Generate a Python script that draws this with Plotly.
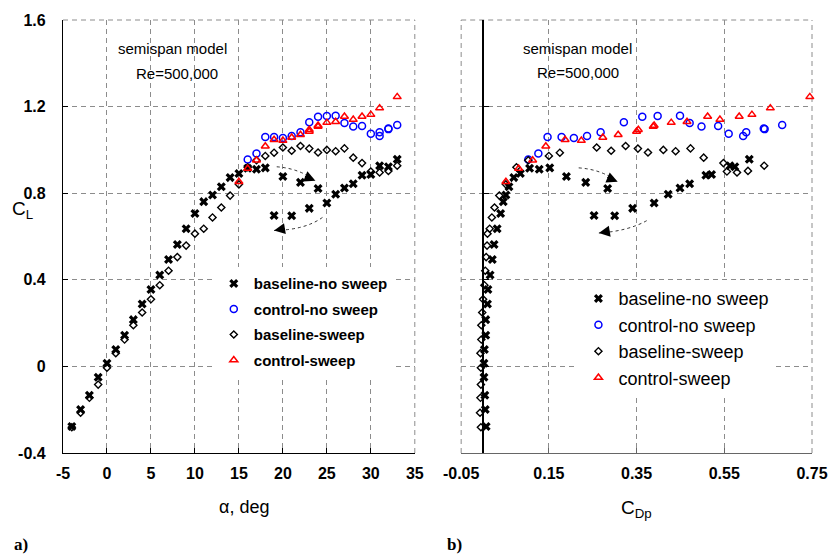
import plotly.graph_objects as go

# ---- lift data: semispan model, Re = 500,000 ----
# baseline, no sweep (upper branch to 24 deg, then lower/hysteresis branch)
alpha_base_nosweep = [-4, -3, -2, -1, 0, 1, 2, 3, 4, 5, 6, 7, 8, 9, 10, 11, 12, 13, 14, 15, 16, 17, 18,
                      20, 22, 24,
                      19, 21, 23, 25, 26, 27, 28, 29, 30, 31, 32, 33]
cl_base_nosweep = [-0.278, -0.199, -0.133, -0.050, 0.015, 0.078, 0.144, 0.216, 0.288, 0.355, 0.422, 0.494,
                   0.563, 0.636, 0.706, 0.761, 0.792, 0.830, 0.872, 0.891, 0.915, 0.911, 0.917,
                   0.877, 0.850, 0.822,
                   0.697, 0.696, 0.730, 0.755, 0.795, 0.824, 0.844, 0.883, 0.886, 0.927, 0.922, 0.957]
cdp_base_nosweep = [0.007, 0.005, 0.004, 0.002, 0.002, 0.003, 0.006, 0.006, 0.010, 0.011, 0.016, 0.021,
                    0.025, 0.032, 0.040, 0.046, 0.052, 0.059, 0.070, 0.085, 0.106, 0.128, 0.152,
                    0.190, 0.234, 0.284,
                    0.253, 0.300, 0.341, 0.390, 0.422, 0.449, 0.471, 0.508, 0.521, 0.563, 0.574, 0.607]

# control, no sweep
alpha_ctrl_nosweep = [16, 17, 18, 19, 20, 21, 22, 23, 24, 25, 26, 27, 28, 29, 30, 31, 31, 32, 32, 33]
cl_ctrl_nosweep = [0.956, 0.983, 1.060, 1.060, 1.055, 1.064, 1.081, 1.128, 1.153, 1.157, 1.158, 1.124,
                   1.108, 1.110, 1.075, 1.064, 1.082, 1.099, 1.096, 1.115]
cdp_ctrl_nosweep = [0.103, 0.126, 0.147, 0.179, 0.207, 0.237, 0.268, 0.321, 0.363, 0.398, 0.449, 0.471,
                    0.498, 0.536, 0.560, 0.593, 0.600, 0.640, 0.642, 0.682]

# baseline, sweep
alpha_base_sweep = [-4, -3, -2, -1, 0, 1, 2, 3, 4, 5, 6, 7, 8, 9, 10, 11, 12, 13, 14, 15, 16, 17, 18,
                    19, 20, 21, 22, 23, 24, 25, 26, 27, 28, 29, 30, 31, 32, 33]
cl_base_sweep = [-0.281, -0.214, -0.145, -0.084, -0.006, 0.061, 0.124, 0.190, 0.249, 0.310, 0.375, 0.442,
                 0.505, 0.558, 0.613, 0.636, 0.688, 0.734, 0.789, 0.841, 0.920, 0.952, 0.972, 0.987,
                 1.011, 0.996, 1.018, 1.006, 0.988, 1.000, 0.994, 1.007, 0.964, 0.939, 0.900, 0.896,
                 0.903, 0.927]
cdp_base_sweep = [-0.005, -0.007, -0.006, -0.005, -0.005, -0.006, -0.004, -0.004, -0.002, 0.000, 0.003,
                  0.005, 0.007, 0.009, 0.010, 0.015, 0.020, 0.026, 0.037, 0.052, 0.076, 0.103, 0.150,
                  0.175, 0.259, 0.292, 0.325, 0.353, 0.376, 0.411, 0.439, 0.473, 0.503, 0.548, 0.556,
                  0.579, 0.604, 0.641]

# control, sweep
alpha_ctrl_sweep = [15, 16, 17, 18, 19, 20, 21, 22, 23, 23, 24, 24, 25, 26, 27, 28, 29, 30, 31, 33]
cl_ctrl_sweep = [0.853, 0.914, 0.952, 1.017, 1.047, 1.043, 1.057, 1.070, 1.093, 1.085, 1.113, 1.108,
                 1.126, 1.130, 1.154, 1.140, 1.154, 1.163, 1.193, 1.245]
cdp_ctrl_sweep = [0.052, 0.081, 0.113, 0.143, 0.187, 0.224, 0.273, 0.308, 0.354, 0.350, 0.390, 0.388,
                  0.429, 0.465, 0.512, 0.540, 0.584, 0.613, 0.655, 0.745]

series_names = ["baseline-no sweep", "control-no sweep", "baseline-sweep", "control-sweep"]

# tick values / labels
alpha_ticks = [-5, 0, 5, 10, 15, 20, 25, 30, 35]
alpha_ticktext = ["-5", "0", "5", "10", "15", "20", "25", "30", "35"]
cdp_ticks = [-0.05, 0.15, 0.35, 0.55, 0.75]
cdp_ticktext = ["-0.05", "0.15", "0.35", "0.55", "0.75"]
cl_ticks = [-0.4, 0.0, 0.4, 0.8, 1.2, 1.6]
cl_ticktext = ["-0.4", "0", "0.4", "0.8", "1.2", "1.6"]

# ---- styling ----
NARROW = "Liberation Sans Narrow, Arial Narrow, Liberation Sans, Arial, sans-serif"
SANS = "Liberation Sans, Arial, Helvetica, sans-serif"
GRID = "#8c8c8c"
DASH = "5px,4px"

styles = [
    dict(symbol="x", size=8, color="black", line=dict(width=0)),
    dict(symbol="circle-open", size=7, color="#0000ff", line=dict(width=1.5)),
    dict(symbol="diamond-open", size=5.5, color="black", line=dict(width=1.4)),
    dict(symbol="triangle-up-open", size=7, color="#ff0000", line=dict(width=1.5)),
]

left_sets = [(alpha_base_nosweep, cl_base_nosweep), (alpha_ctrl_nosweep, cl_ctrl_nosweep),
             (alpha_base_sweep, cl_base_sweep), (alpha_ctrl_sweep, cl_ctrl_sweep)]
right_sets = [(cdp_base_nosweep, cl_base_nosweep), (cdp_ctrl_nosweep, cl_ctrl_nosweep),
              (cdp_base_sweep, cl_base_sweep), (cdp_ctrl_sweep, cl_ctrl_sweep)]

fig = go.Figure()
for i, (name, (x, y)) in enumerate(zip(series_names, left_sets)):
    fig.add_trace(go.Scatter(x=x, y=y, mode="markers", name=name, marker=styles[i],
                             xaxis="x", yaxis="y", legend="legend", legendgroup="a%d" % i,
                             cliponaxis=False))
for i, (name, (x, y)) in enumerate(zip(series_names, right_sets)):
    fig.add_trace(go.Scatter(x=x, y=y, mode="markers", name=name, marker=styles[i],
                             xaxis="x2", yaxis="y2", legend="legend2", legendgroup="b%d" % i,
                             cliponaxis=False))

L_DOM = [0.0, 0.4697]
R_DOM = [0.5316, 1.0]
# paper position of CDp = 0 on the right panel (the solid CL axis line)
zero_pos = R_DOM[0] + (0.05 / 0.80) * (R_DOM[1] - R_DOM[0])

tickfont = dict(family=NARROW, size=16, color="black", weight="bold")
common_grid = dict(showgrid=True, gridcolor=GRID, gridwidth=1, griddash=DASH, zeroline=False)

fig.update_layout(
    width=840, height=555,
    margin=dict(l=63, r=17, t=17, b=102),
    paper_bgcolor="white", plot_bgcolor="white",
    showlegend=True,
    xaxis=dict(domain=L_DOM, range=[-5, 35], tickvals=alpha_ticks, ticktext=alpha_ticktext,
               anchor="y", showline=True, linecolor="black", linewidth=1.2,
               ticks="inside", ticklen=5, tickcolor="black", tickfont=tickfont,
               ticklabelstandoff=6, **common_grid),
    yaxis=dict(domain=[0, 1], range=[-0.4, 1.6], tickvals=cl_ticks, ticktext=cl_ticktext,
               anchor="x", showline=True, linecolor="black", linewidth=1.2,
               ticks="inside", ticklen=5, tickcolor="black", tickfont=tickfont,
               ticklabelstandoff=13, **common_grid),
    xaxis2=dict(domain=R_DOM, range=[-0.05, 0.75], tickvals=cdp_ticks, ticktext=cdp_ticktext,
                anchor="y2", showline=True, linecolor="#666666", linewidth=1.2,
                ticks="inside", ticklen=5, tickcolor="#666666", tickfont=tickfont,
                ticklabelstandoff=6, **common_grid),
    yaxis2=dict(domain=[0, 1], range=[-0.4, 1.6], tickvals=cl_ticks, showticklabels=False,
                anchor="free", position=zero_pos, showline=True, linecolor="black", linewidth=1.5,
                ticks="inside", ticklen=5, tickcolor="black", **common_grid),
    legend=dict(x=(216 - 63) / 760, y=1 - (266 - 17) / 436, xanchor="left", yanchor="top",
                bgcolor="white", borderwidth=0, traceorder="grouped", tracegroupgap=3,
                font=dict(family=SANS, size=15, color="black", weight="bold")),
    legend2=dict(x=(586 - 63) / 760, y=1 - (279 - 17) / 436, xanchor="left", yanchor="top",
                 bgcolor="white", borderwidth=0, traceorder="grouped", tracegroupgap=0,
                 font=dict(family=SANS, size=18, color="black")),
)

# dashed frame edges at the ends of the ranges (top and right of panel a, top/left/right of panel b)
edge = dict(color=GRID, width=1, dash=DASH)
shapes = [
    dict(type="line", xref="x domain", yref="y domain", x0=0, x1=1, y0=1, y1=1, line=edge, layer="below"),
    dict(type="line", xref="x domain", yref="y domain", x0=1, x1=1, y0=0, y1=1, line=edge, layer="below"),
    dict(type="line", xref="x2 domain", yref="y2 domain", x0=0, x1=1, y0=1, y1=1, line=edge, layer="below"),
    dict(type="line", xref="x2 domain", yref="y2 domain", x0=0, x1=0, y0=0, y1=1, line=edge, layer="below"),
    dict(type="line", xref="x2 domain", yref="y2 domain", x0=1, x1=1, y0=0, y1=1, line=edge, layer="below"),
]

ann = []
txtfont = dict(family=SANS, size=15, color="black")
# model / Reynolds-number notes
ann.append(dict(x=7.4, y=1.468, xref="x", yref="y", text="semispan model", showarrow=False,
                xanchor="center", font=txtfont))
ann.append(dict(x=8.0, y=1.352, xref="x", yref="y", text="Re=500,000", showarrow=False,
                xanchor="center", font=txtfont))
ann.append(dict(x=0.216, y=1.468, xref="x2", yref="y2", text="semispan model", showarrow=False,
                xanchor="center", font=txtfont))
ann.append(dict(x=0.216, y=1.358, xref="x2", yref="y2", text="Re=500,000", showarrow=False,
                xanchor="center", font=txtfont))

# axis titles and panel tags
ann.append(dict(x=(247 - 63) / 760, y=1 - (507 - 17) / 436, xref="paper", yref="paper",
                xanchor="center", yanchor="middle",
                text="α, deg", showarrow=False, font=dict(family=NARROW, size=18, color="black")))
ann.append(dict(x=(9 - 63) / 760, y=1 - (208 - 17) / 436, xref="paper", yref="paper",
                xanchor="left", yanchor="middle",
                text="C<sub>L</sub>", showarrow=False, font=dict(family=NARROW, size=19, color="black")))
ann.append(dict(x=(645 - 63) / 760, y=1 - (509 - 17) / 436, xref="paper", yref="paper",
                xanchor="center", yanchor="middle",
                text="C<sub>Dp</sub>", showarrow=False, font=dict(family=NARROW, size=19, color="black")))
panelfont = dict(family="Liberation Serif, Times New Roman, serif", size=17, color="black", weight="bold")
ann.append(dict(x=(20 - 63) / 760, y=1 - (545 - 17) / 436, xref="paper", yref="paper",
                xanchor="center", yanchor="middle", text="a)", showarrow=False, font=panelfont))
ann.append(dict(x=(460 - 63) / 760, y=1 - (545 - 17) / 436, xref="paper", yref="paper",
                xanchor="center", yanchor="middle", text="b)", showarrow=False, font=panelfont))

# hysteresis direction arrows: dotted curve + arrow head
arrow_specs = [
    # xref, yref, start, control, head, tail offset (px) of the head
    ("x", "y", (19.3, 0.922), (21.8, 0.915), (23.7, 0.858), (-12, -5)),
    ("x", "y", (24.5, 0.688), (22.5, 0.630), (19.0, 0.628), (12, -2)),
    ("x2", "y2", (0.218, 0.917), (0.270, 0.910), (0.307, 0.853), (-12, -5)),
    ("x2", "y2", (0.373, 0.673), (0.330, 0.625), (0.264, 0.616), (12, -2)),
]
for xr, yr, p0, pc, p1, off in arrow_specs:
    shapes.append(dict(type="path", xref=xr, yref=yr,
                       path="M %g,%g Q %g,%g %g,%g" % (p0[0], p0[1], pc[0], pc[1], p1[0], p1[1]),
                       line=dict(color="black", width=0.8, dash="dot")))
    ann.append(dict(x=p1[0], y=p1[1], xref=xr, yref=yr, ax=off[0], ay=off[1], showarrow=True,
                    arrowhead=2, arrowsize=2.2, arrowwidth=1, arrowcolor="black", text="", standoff=0))

fig.update_layout(annotations=ann, shapes=shapes)
fig.write_html("out.html")
